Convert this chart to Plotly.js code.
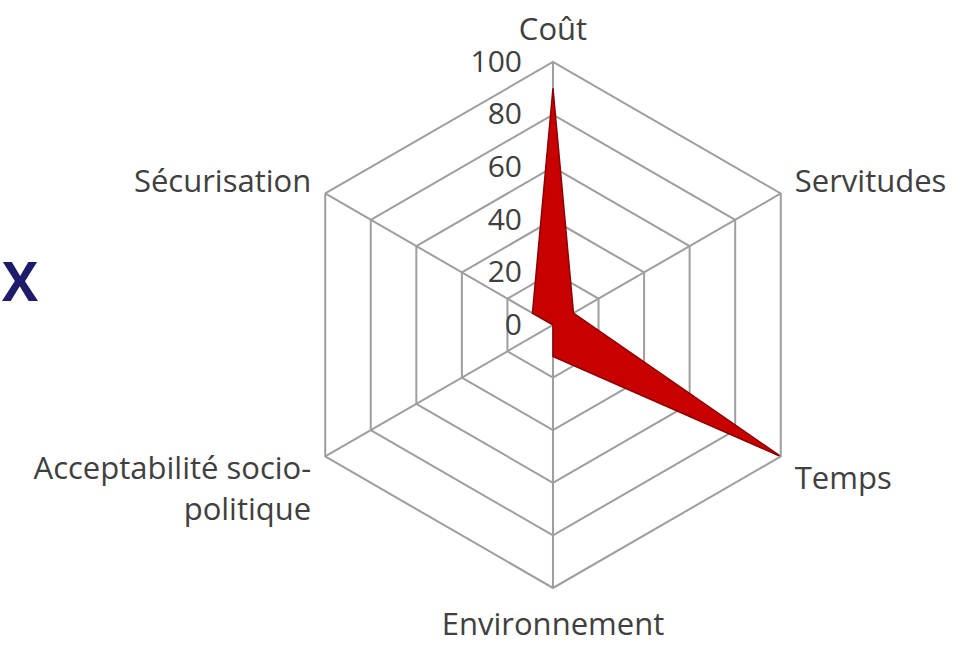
<!DOCTYPE html>
<html>
<head>
<meta charset="utf-8">
<script src="https://cdn.plot.ly/plotly-3.0.1.min.js"></script>
<style>html,body{margin:0;padding:0;background:#fff;}#chart{width:977px;height:651px;}</style>
</head>
<body>
<div id="chart"></div>
<script>
const categories = ["Coût", "Servitudes", "Temps", "Environnement", "Acceptabilité socio-<br>politique", "Sécurisation"];
const values = [90, 9, 100, 12, 0, 9];
const radialTicks = [0, 20, 40, 60, 80, 100];

const theta = categories.concat([categories[0]]);
const r = values.concat([values[0]]);

const data = [{
  type: "scatterpolar",
  r: r,
  theta: theta,
  mode: "lines",
  fill: "toself",
  fillcolor: "rgb(200,0,0)",
  line: {color: "rgb(140,0,0)", width: 1.5},
  hoverinfo: "skip"
}];

const layout = {
  width: 977, height: 651,
  margin: {l: 0, r: 0, t: 0, b: 0},
  paper_bgcolor: "#ffffff",
  plot_bgcolor: "#ffffff",
  showlegend: false,
  font: {family: "Open Sans, sans-serif", color: "#404040", size: 31},
  polar: {
    domain: {x: [0.2968, 0.8352], y: [0.0968, 0.9048]},
    bgcolor: "#ffffff",
    gridshape: "linear",
    angularaxis: {
      rotation: 90,
      direction: "clockwise",
      categoryorder: "array",
      categoryarray: categories,
      linecolor: "#9e9e9e",
      linewidth: 2,
      gridcolor: "#9e9e9e",
      gridwidth: 2,
      ticks: "outside",
      ticklen: 9,
      tickcolor: "rgba(0,0,0,0)",
      tickfont: {size: 31, color: "#404040"}
    },
    radialaxis: {
      range: [0, 100],
      tickvals: radialTicks,
      ticktext: radialTicks.map(String),
      angle: 90,
      tickangle: 90,
      side: "counterclockwise",
      showline: false,
      gridcolor: "#9e9e9e",
      gridwidth: 2,
      ticks: "outside",
      ticklen: 20,
      tickcolor: "rgba(0,0,0,0)",
      tickfont: {size: 30, color: "#404040"}
    }
  },
  annotations: [{
    text: "<b>X</b>", x: 0, y: 0.57, xref: "paper", yref: "paper",
    xanchor: "left", yanchor: "middle", showarrow: false,
    font: {size: 54, color: "#1e1b6b", family: "Open Sans, sans-serif"}
  }]
};

Plotly.newPlot("chart", data, layout, {displayModeBar: false});
</script>
</body>
</html>
